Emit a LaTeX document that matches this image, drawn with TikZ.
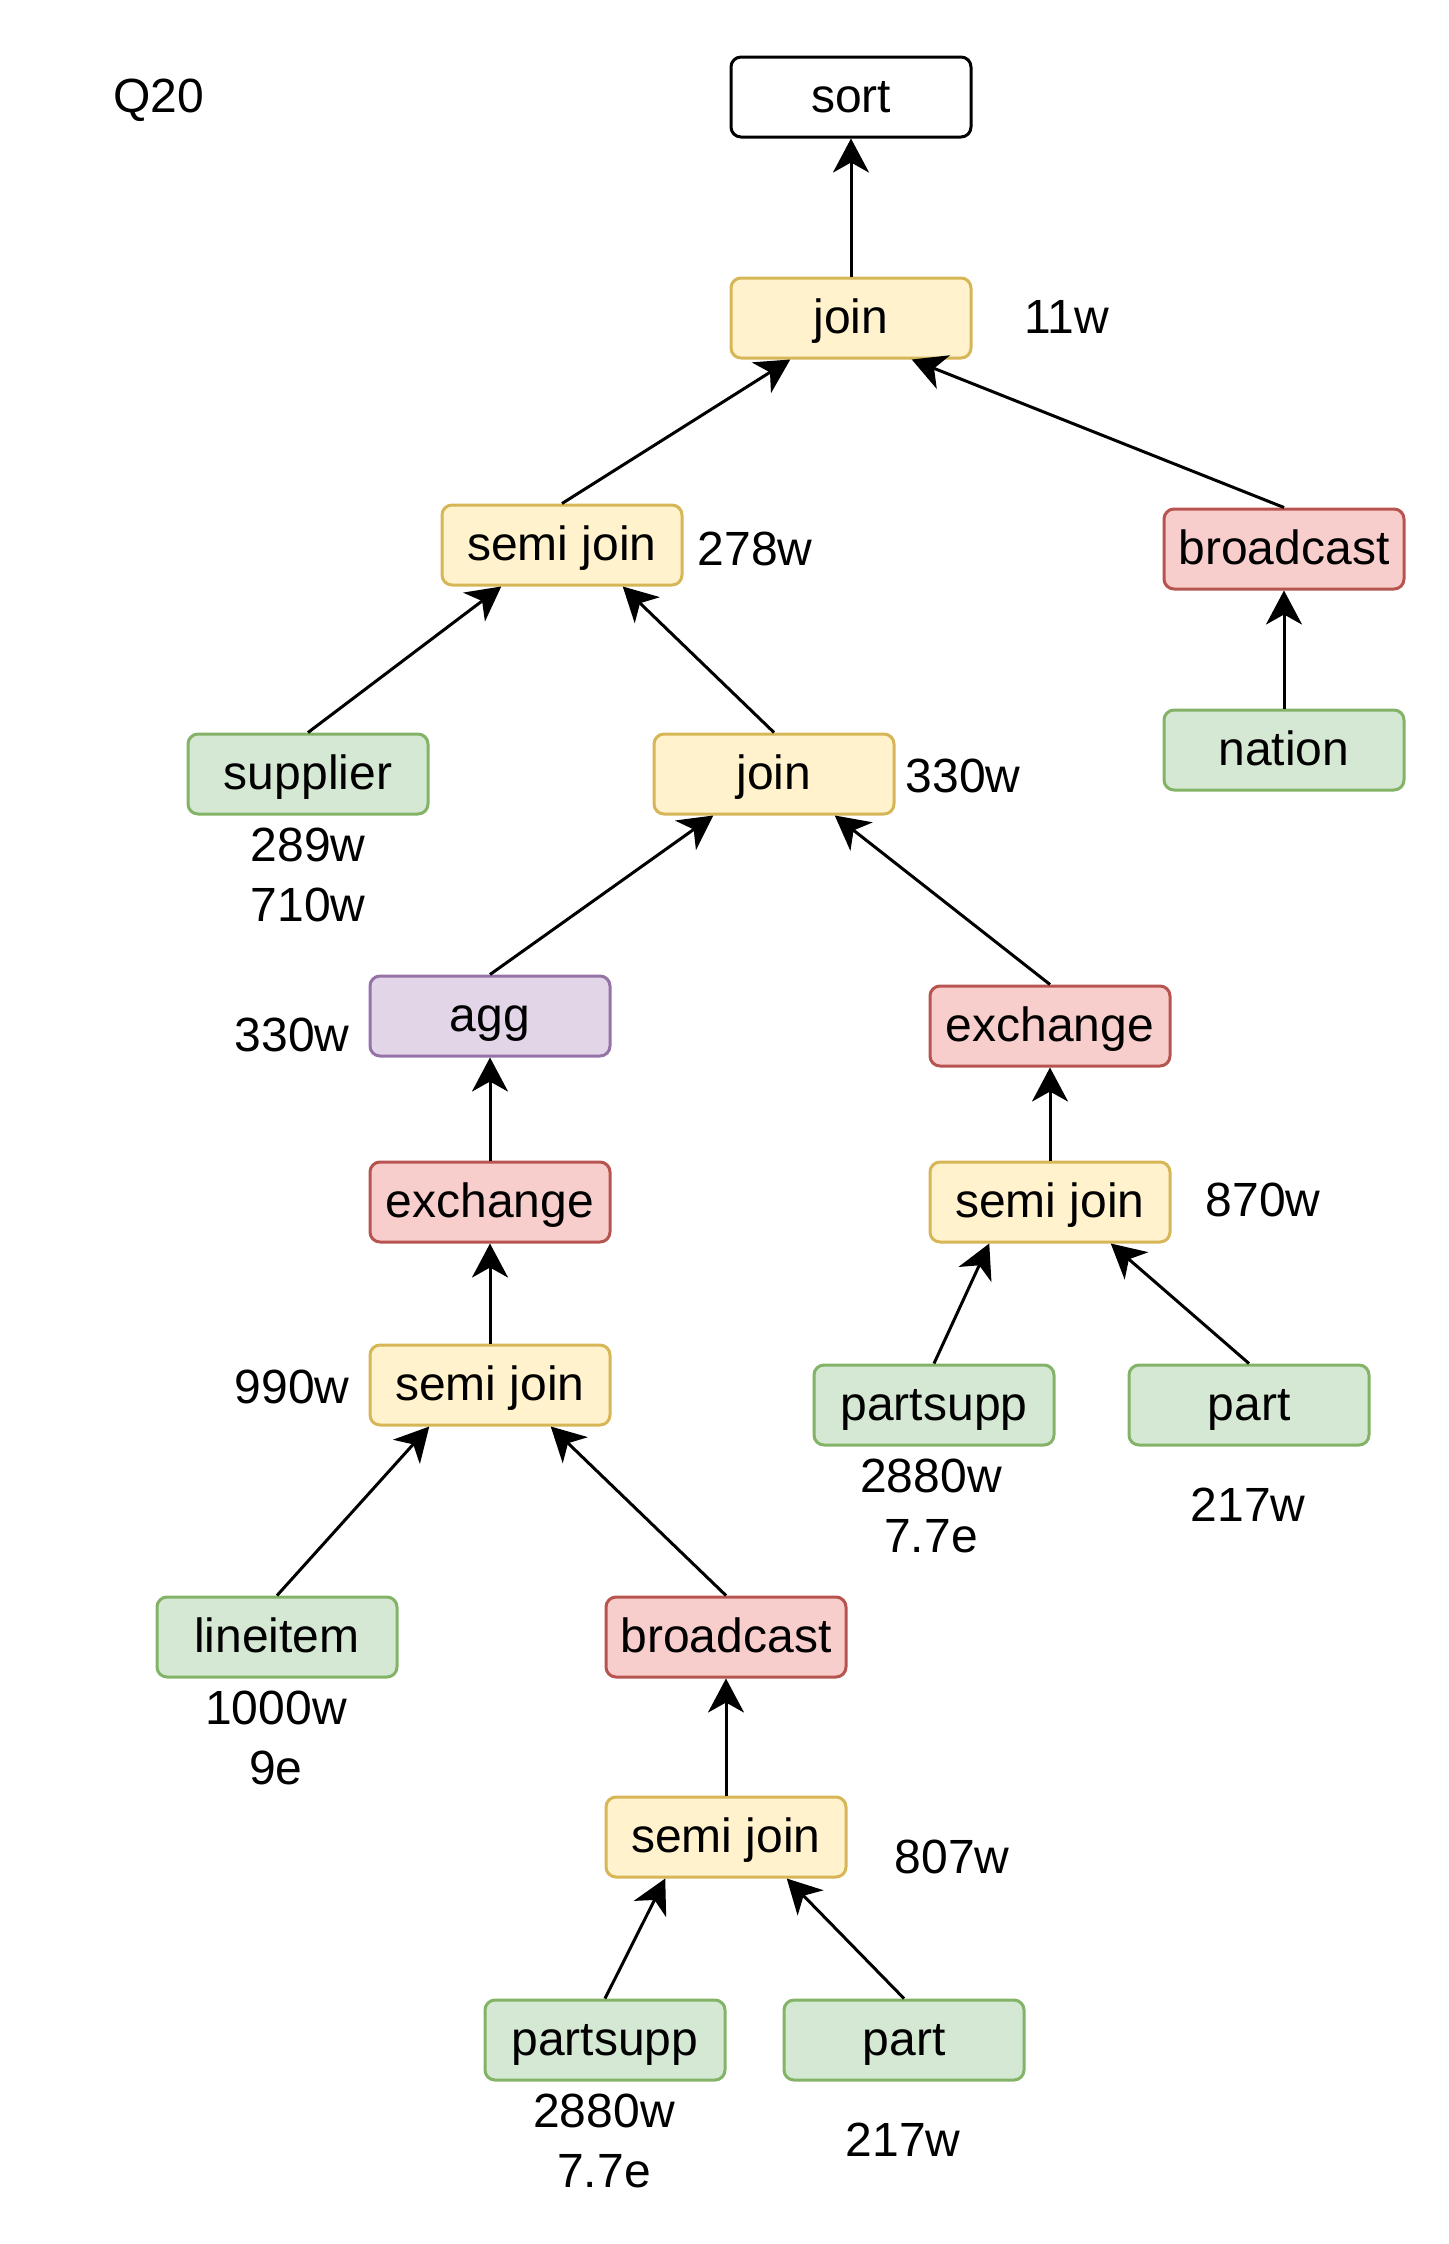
\documentclass[tikz,border=0pt]{standalone}
\usepackage{fontspec}
\setmainfont{Liberation Sans}
\usetikzlibrary{arrows.meta,calc}
\definecolor{planjoinfundo}{HTML}{FFF2CC}
\definecolor{planjoinborda}{HTML}{D6B656}
\definecolor{planscanfundo}{HTML}{D5E8D4}
\definecolor{planscanborda}{HTML}{82B366}
\definecolor{planxchgfundo}{HTML}{F8CECC}
\definecolor{planxchgborda}{HTML}{B85450}
\definecolor{planaggfundo}{HTML}{E1D5E7}
\definecolor{planaggborda}{HTML}{9673A6}
\tikzset{
  planbox/.style={draw=black, fill=white, rounded corners=5pt, line width=1.5pt,
                  minimum width=120pt, minimum height=40pt, inner sep=0pt,
                  text height=19pt, text depth=4pt, font=\fontsize{24}{30}\selectfont},
  planjoin/.style={planbox, draw=planjoinborda, fill=planjoinfundo},
  planscan/.style={planbox, draw=planscanborda, fill=planscanfundo},
  planxchg/.style={planbox, draw=planxchgborda, fill=planxchgfundo},
  planagg/.style={planbox, draw=planaggborda, fill=planaggfundo},
  planseta/.style={-{Stealth[length=17pt, width=18pt, inset=5pt]}, line width=1.5pt},
  planrotulo/.style={font=\fontsize{24}{30}\selectfont, align=center, inner sep=0pt},
}

\begin{document}
\begin{tikzpicture}[x=0.5pt, y=-0.5pt]
    \useasboundingbox (0,0) rectangle (1448,2244);
    % topo
    \node[planrotulo] (titulo) at (159,100) {Q20};
    \node[planbox] (sort) at (851,97) {sort};
    \node[planjoin] (join1) at (851,318) {join};
    \node[planrotulo] (r11) at (1067,317) {11w};
    % ramo esquerdo
    \node[planjoin] (sj1) at (562,545) {semi join};
    \node[planrotulo] (r278) at (755,549) {278w};
    \node[planscan] (sup) at (308,774) {supplier};
    \node[planrotulo] (rsup) at (308,875) {289w\\710w};
    \node[planjoin] (join2) at (774,774) {join};
    \node[planrotulo] (r330a) at (963,776) {330w};
    % ramo direito
    \node[planxchg] (bc1) at (1284,549) {broadcast};
    \node[planscan] (nation) at (1284,750) {nation};
    % agg
    \node[planagg] (agg) at (490,1016) {agg};
    \node[planrotulo] (r330b) at (292,1035) {330w};
    \node[planxchg] (ex1) at (490,1202) {exchange};
    \node[planjoin] (sj2) at (490,1385) {semi join};
    \node[planrotulo] (r990) at (292,1387) {990w};
    \node[planscan] (line) at (277,1637) {lineitem};
    \node[planrotulo] (rline) at (276,1738) {1000w\\9e};
    \node[planxchg] (bc2) at (726,1637) {broadcast};
    \node[planjoin] (sj4) at (726,1837) {semi join};
    \node[planrotulo] (r807) at (952,1857) {807w};
    \node[planscan] (ps2) at (605,2040) {partsupp};
    \node[planrotulo] (rps2) at (604,2141) {2880w\\7.7e};
    \node[planscan] (part2) at (904,2040) {part};
    \node[planrotulo] (rpart2) at (903,2140) {217w};
    % exchange direito
    \node[planxchg] (ex2) at (1050,1026) {exchange};
    \node[planjoin] (sj3) at (1050,1202) {semi join};
    \node[planrotulo] (r870) at (1263,1200) {870w};
    \node[planscan] (ps1) at (934,1405) {partsupp};
    \node[planrotulo] (rps1) at (931,1506) {2880w\\7.7e};
    \node[planscan] (part1) at (1249,1405) {part};
    \node[planrotulo] (rpart1) at (1248,1505) {217w};
    % arestas
    \draw[planseta] (join1) -- (sort);
    \draw[planseta] (sj1.north) -- ($(join1.south)!0.5!(join1.south west)$);
    \draw[planseta] (bc1.north) -- ($(join1.south)!0.5!(join1.south east)$);
    \draw[planseta] (nation) -- (bc1);
    \draw[planseta] (sup.north) -- ($(sj1.south)!0.5!(sj1.south west)$);
    \draw[planseta] (join2.north) -- ($(sj1.south)!0.5!(sj1.south east)$);
    \draw[planseta] (agg.north) -- ($(join2.south)!0.5!(join2.south west)$);
    \draw[planseta] (ex2.north) -- ($(join2.south)!0.5!(join2.south east)$);
    \draw[planseta] (ex1) -- (agg);
    \draw[planseta] (sj2) -- (ex1);
    \draw[planseta] (line.north) -- ($(sj2.south)!0.5!(sj2.south west)$);
    \draw[planseta] (bc2.north) -- ($(sj2.south)!0.5!(sj2.south east)$);
    \draw[planseta] (sj4) -- (bc2);
    \draw[planseta] (ps2.north) -- ($(sj4.south)!0.5!(sj4.south west)$);
    \draw[planseta] (part2.north) -- ($(sj4.south)!0.5!(sj4.south east)$);
    \draw[planseta] (sj3) -- (ex2);
    \draw[planseta] (ps1.north) -- ($(sj3.south)!0.5!(sj3.south west)$);
    \draw[planseta] (part1.north) -- ($(sj3.south)!0.5!(sj3.south east)$);
\end{tikzpicture}
\end{document}
